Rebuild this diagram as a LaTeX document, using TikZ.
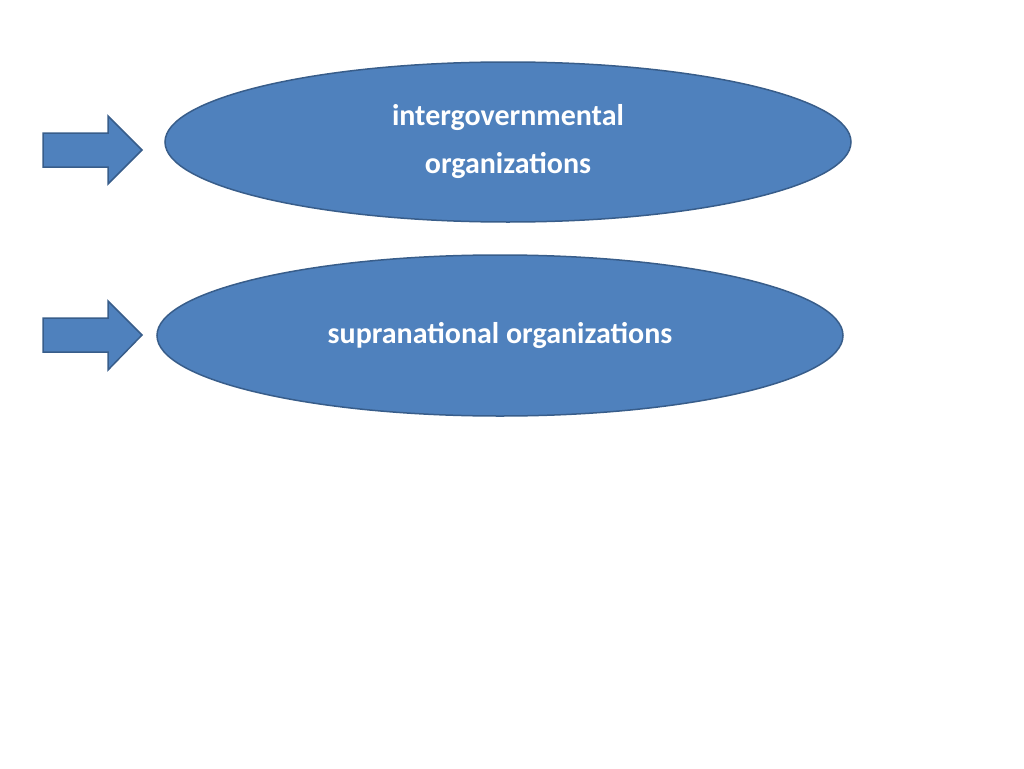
\documentclass[tikz,border=0pt]{standalone}
\usepackage{fontspec}
\setmainfont{Carlito}
\usetikzlibrary{shapes.geometric}
\definecolor{fillb}{HTML}{4F81BD}
\definecolor{edgeb}{HTML}{385D8A}
\begin{document}
\begin{tikzpicture}[x=1pt,y=-1pt,
  oval/.style={ellipse,draw=edgeb,line width=1.5pt,fill=fillb,text=white,font=\bfseries\fontsize{30}{48}\selectfont,align=center,inner sep=0pt},
  blockarrow/.style={draw=edgeb,line width=1.5pt,fill=fillb,line join=miter}]
\useasboundingbox (0,0) rectangle (1024,768);
\node[oval,minimum width=686,minimum height=160] (igo) at (508,142) {intergovernmental\\organizations};
\node[oval,minimum width=686,minimum height=161] (sno) at (500,335.5) {supranational organizations};
\draw[blockarrow] (43,133) -- (108,133) -- (108,116) -- (142,150) -- (108,184) -- (108,167) -- (43,167) -- cycle;
\draw[blockarrow] (43,318) -- (108,318) -- (108,301) -- (142,335) -- (108,370) -- (108,352) -- (43,352) -- cycle;
\end{tikzpicture}
\end{document}
